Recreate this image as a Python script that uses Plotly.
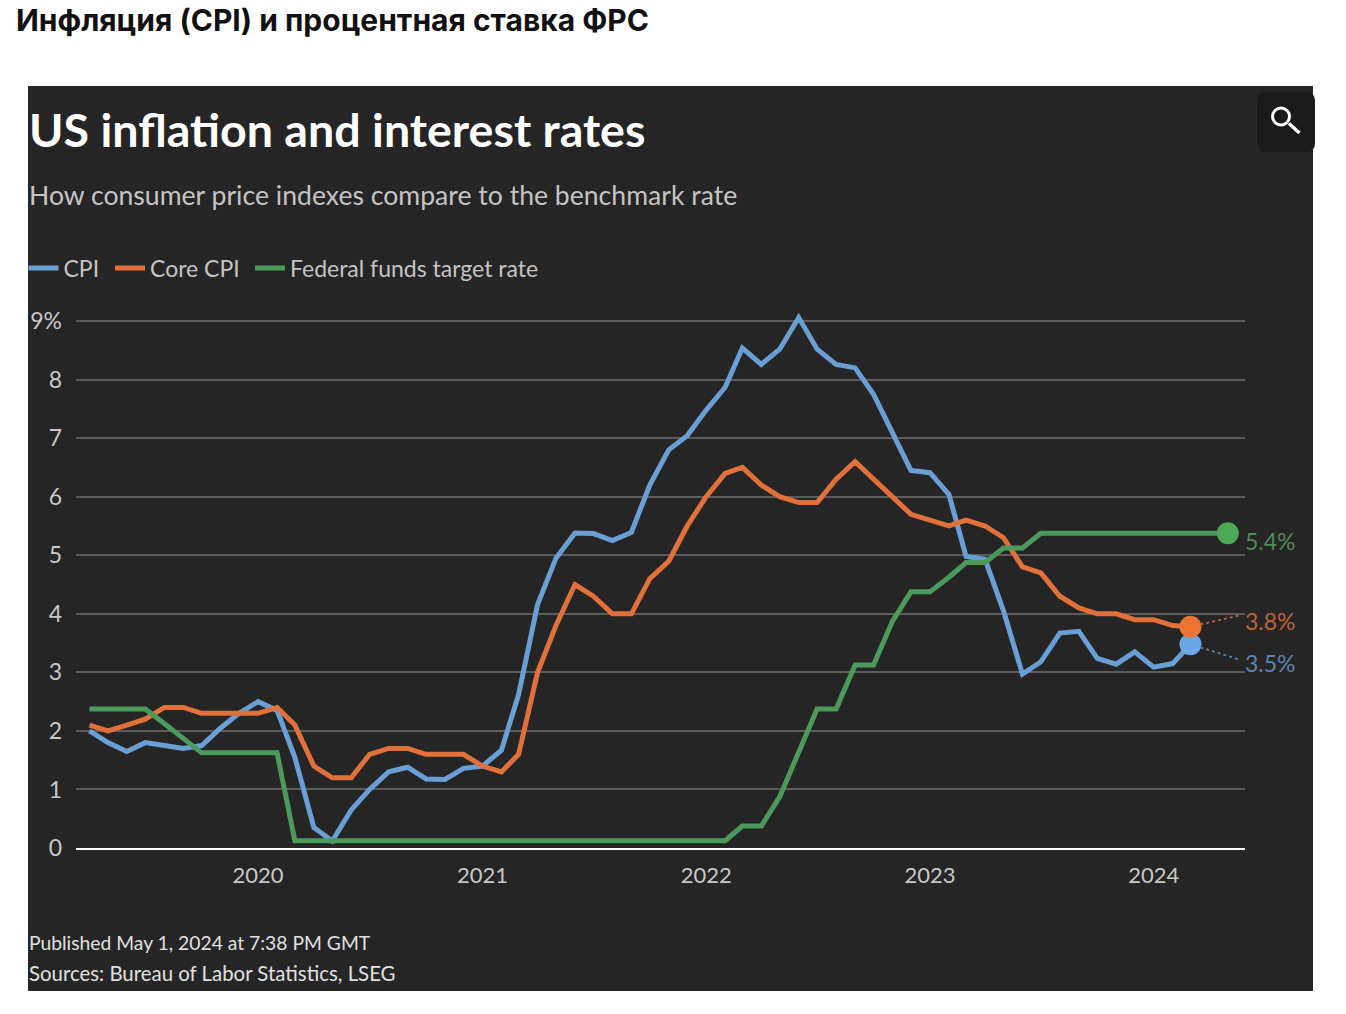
import plotly.graph_objects as go
import pandas as pd

W, H = 1346, 1014

months = pd.date_range("2019-04-01", "2024-03-01", freq="MS").strftime("%Y-%m-%d").tolist()
fed_months = pd.date_range("2019-04-01", "2024-05-01", freq="MS").strftime("%Y-%m-%d").tolist()

cpi = [2.0, 1.8, 1.65, 1.8, 1.75, 1.7, 1.75, 2.05, 2.3,
       2.5, 2.35, 1.55, 0.35, 0.12, 0.65, 1.0, 1.3, 1.38, 1.18, 1.17, 1.36,
       1.4, 1.67, 2.62, 4.16, 4.95, 5.38, 5.37, 5.25, 5.39, 6.2, 6.8, 7.04,
       7.48, 7.87, 8.54, 8.26, 8.52, 9.06, 8.52, 8.26, 8.2, 7.75, 7.1, 6.45,
       6.41, 6.04, 4.98, 4.93, 4.05, 2.97, 3.18, 3.67, 3.7, 3.24, 3.14, 3.35,
       3.09, 3.15, 3.48]
core = [2.1, 2.0, 2.1, 2.2, 2.4, 2.4, 2.3, 2.3, 2.3,
        2.3, 2.4, 2.1, 1.4, 1.2, 1.2, 1.6, 1.7, 1.7, 1.6, 1.6, 1.6,
        1.4, 1.3, 1.6, 3.0, 3.8, 4.5, 4.3, 4.0, 4.0, 4.6, 4.9, 5.5,
        6.0, 6.4, 6.5, 6.2, 6.0, 5.9, 5.9, 6.3, 6.6, 6.3, 6.0, 5.7,
        5.6, 5.5, 5.6, 5.5, 5.3, 4.8, 4.7, 4.3, 4.1, 4.0, 4.0, 3.9,
        3.9, 3.8, 3.78]
fed = [2.375, 2.375, 2.375, 2.375, 2.125, 1.875, 1.625, 1.625, 1.625,
       1.625, 1.625, 0.125, 0.125, 0.125, 0.125, 0.125, 0.125, 0.125, 0.125, 0.125, 0.125,
       0.125, 0.125, 0.125, 0.125, 0.125, 0.125, 0.125, 0.125, 0.125, 0.125, 0.125, 0.125,
       0.125, 0.125, 0.375, 0.375, 0.875, 1.625, 2.375, 2.375, 3.125, 3.125, 3.875, 4.375,
       4.375, 4.625, 4.875, 4.875, 5.125, 5.125, 5.375, 5.375, 5.375, 5.375, 5.375, 5.375,
       5.375, 5.375, 5.375, 5.375, 5.375]

y_ticks = [0, 1, 2, 3, 4, 5, 6, 7, 8, 9]
y_labels = ["0", "1", "2", "3", "4", "5", "6", "7", "8", "9%"]
x_ticks = ["2020-01-01", "2021-01-01", "2022-01-01", "2023-01-01", "2024-01-01"]
x_labels = ["2020", "2021", "2022", "2023", "2024"]

BLUE, ORANGE, GREEN = "#6a9fd6", "#e2703a", "#4b9a5c"
DOT_BLUE, DOT_ORANGE, DOT_GREEN = "#6ba8e5", "#ec7433", "#4da955"
LBL_BLUE, LBL_ORANGE, LBL_GREEN = "#5f83ab", "#bd6238", "#4f8a5b"
PANEL = "#252525"
FONT = "Lato"


def px(x):
    return x / W


def py(y):
    return 1 - y / H


fig = go.Figure()
for name, xs, ys, col, leg in [("CPI", months, cpi, BLUE, "legend"),
                               ("Core CPI", months, core, ORANGE, "legend2"),
                               ("Federal funds target rate", fed_months, fed, GREEN, "legend3")]:
    fig.add_trace(go.Scatter(x=xs, y=ys, name=name, mode="lines", legend=leg,
                             line=dict(color=col, width=5, shape="linear"),
                             hoverinfo="x+y"))
for xs, ys, col in [(months, cpi, DOT_BLUE), (months, core, DOT_ORANGE), (fed_months, fed, DOT_GREEN)]:
    fig.add_trace(go.Scatter(x=[xs[-1]], y=[ys[-1]], mode="markers", showlegend=False,
                             marker=dict(color=col, size=22), cliponaxis=False, hoverinfo="skip"))

shapes = [
    dict(type="rect", xref="paper", yref="paper", x0=px(28), x1=px(1313), y0=py(991), y1=py(86),
         fillcolor=PANEL, line_width=0, layer="below"),
    # search button
    dict(type="path", xref="paper", yref="paper", layer="above", line_width=0, fillcolor="#1a1a1a",
         path=f"M {px(1266)} {py(92)} L {px(1306)} {py(92)} Q {px(1315)} {py(92)} {px(1315)} {py(101)} "
              f"L {px(1315)} {py(143)} Q {px(1315)} {py(152)} {px(1306)} {py(152)} L {px(1266)} {py(152)} "
              f"Q {px(1257)} {py(152)} {px(1257)} {py(143)} L {px(1257)} {py(101)} Q {px(1257)} {py(92)} {px(1266)} {py(92)} Z"),
    dict(type="circle", xref="paper", yref="paper", layer="above", x0=px(1272.5), x1=px(1289.5),
         y0=py(125), y1=py(108), line=dict(color="white", width=3), fillcolor="rgba(0,0,0,0)"),
    dict(type="line", xref="paper", yref="paper", layer="above", x0=px(1289), x1=px(1299.5),
         y0=py(123.5), y1=py(133), line=dict(color="white", width=3.5)),
]
# dotted leaders from end dots to labels, anchored on the data
for xs, ys, col, dy in [(months, core, LBL_ORANGE, 11), (months, cpi, LBL_BLUE, -15)]:
    shapes.append(dict(type="line", xref="x", yref="y", xsizemode="pixel", ysizemode="pixel",
                       xanchor=xs[-1], yanchor=ys[-1], x0=10, x1=48, y0=dy * 10 / 48, y1=dy,
                       line=dict(color=col, width=1.8, dash="dot")))


def note(text, x, y, size, color, anchor="left", weight=None, family=FONT):
    f = dict(family=family, size=size, color=color)
    if weight:
        f["weight"] = weight
    return dict(text=text, xref="paper", yref="paper", x=px(x), y=py(y), showarrow=False,
                xanchor=anchor, yanchor="middle", align=anchor, font=f)


annotations = [
    note("Инфляция (CPI) и процентная ставка ФРС", 14, 20, 30, "#111111", weight=700, family="Inter"),
    note("US inflation and interest rates", 27, 128.5, 46.6, "#ffffff", weight=700),
    note("How consumer price indexes compare to the benchmark rate", 27, 195, 26.6, "#c4c4c4"),
    note("5.4%", 1243, 541, 23, LBL_GREEN),
    note("3.8%", 1243, 621, 23, LBL_ORANGE),
    note("3.5%", 1243, 663, 23, LBL_BLUE),
    note("Published May 1, 2024 at 7:38 PM GMT", 27, 942, 19.3, "#e0e0e0"),
    note("Sources: Bureau of Labor Statistics, LSEG", 27, 973, 20.4, "#e0e0e0"),
]


def legend_at(x):
    return dict(orientation="h", x=px(x), y=py(268), xanchor="left", yanchor="middle",
                bgcolor="rgba(0,0,0,0)", font=dict(size=23, color="#c4c4c4", family=FONT),
                itemwidth=30, traceorder="normal")


fig.update_layout(
    width=W, height=H, autosize=False,
    paper_bgcolor="white", plot_bgcolor=PANEL,
    margin=dict(l=0, r=0, t=0, b=0, pad=0, autoexpand=False),
    font=dict(family=FONT, color="#c8c8c8", size=23),
    shapes=shapes, annotations=annotations,
    showlegend=True,
    legend=legend_at(23.5), legend2=legend_at(110), legend3=legend_at(250),
    xaxis=dict(type="date", domain=[px(76), px(1245)], range=["2019-03-10", "2024-05-29"],
               tickvals=x_ticks, ticktext=x_labels, ticks="", showgrid=False, zeroline=False,
               showline=True, linecolor="#ffffff", linewidth=2, ticklabelstandoff=7,
               tickfont=dict(size=22, color="#c8c8c8"), anchor="y", automargin=False),
    yaxis=dict(domain=[py(848), py(300)], range=[0, 9.36], tickvals=y_ticks, ticktext=y_labels,
               ticks="", showline=False, showgrid=True, gridcolor="#5c5c5c", gridwidth=1.6,
               zeroline=False, ticklabelstandoff=13, tickfont=dict(size=23, color="#c8c8c8"),
               automargin=False),
)

fig.write_html("out.html", config={"displayModeBar": False},
               post_script="document.body.style.margin='0';document.body.style.overflow='hidden';")
